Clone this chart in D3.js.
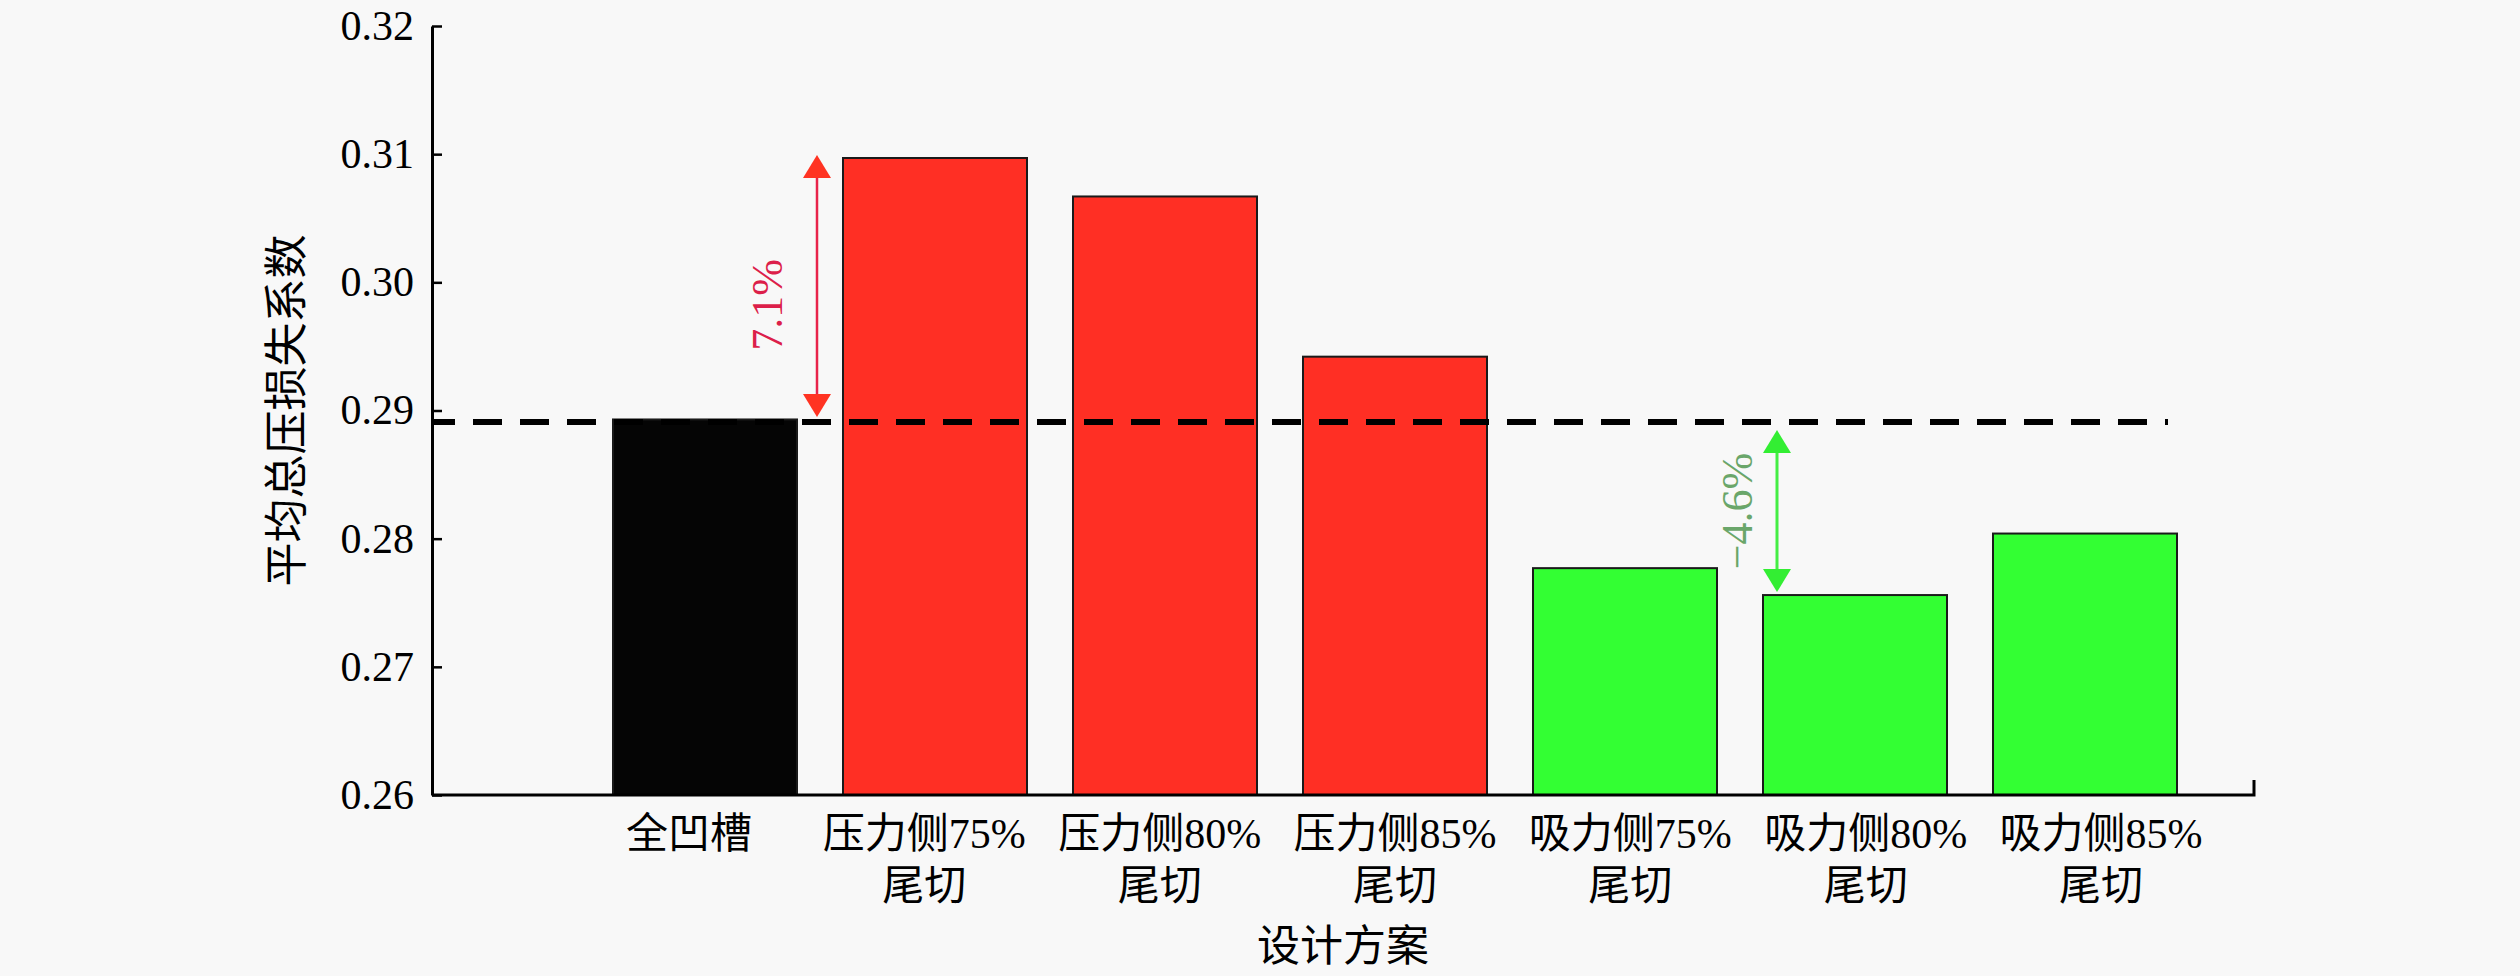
<!DOCTYPE html>
<html>
<head>
<meta charset="utf-8">
<script src="https://cdn.jsdelivr.net/npm/d3@7/dist/d3.min.js"></script>
<style>
  html, body { margin: 0; padding: 0; background: #f8f8f8; }
  svg { display: block; }
  svg text { font-family: "Liberation Serif", "Times New Roman", Tinos, "DejaVu Serif", serif, "Noto Sans CJK SC"; }
</style>
</head>
<body>
<svg id="chart" width="2520" height="976"></svg>
<script>
// ---- data ----
const categories = ["全凹槽", "压力侧75%尾切", "压力侧80%尾切", "压力侧85%尾切", "吸力侧75%尾切", "吸力侧80%尾切", "吸力侧85%尾切"];
const labelLine1 = ["全凹槽", "压力侧75%", "压力侧80%", "压力侧85%", "吸力侧75%", "吸力侧80%", "吸力侧85%"];
const labelLine2 = ["", "尾切", "尾切", "尾切", "尾切", "尾切", "尾切"];
const values = [0.2893, 0.3097, 0.3067, 0.2942, 0.2777, 0.2756, 0.2804];
const groups = ["base", "pressure", "pressure", "pressure", "suction", "suction", "suction"];
const baselineValue = 0.2891;
const yTicks = [0.26, 0.27, 0.28, 0.29, 0.30, 0.31, 0.32];
const yTitle = "平均总压损失系数";
const xTitle = "设计方案";
const annotations = [
  { from: "全凹槽", to: "压力侧75%尾切", label: "7.1%" },
  { from: "全凹槽", to: "吸力侧80%尾切", label: "\u22124.6%" }
];

// ---- styles ----
const fills = { base: "#050505", pressure: "#ff2f24", suction: "#33ff33" };
const FONT = '"Liberation Serif", "Times New Roman", Tinos, "DejaVu Serif", serif, "Noto Sans CJK SC"';

const svg = d3.select("#chart");
svg.append("rect").attr("width", 2520).attr("height", 976).attr("fill", "#f8f8f8");

const axisLeftX = 432, axisRightX = 2254;
const y = d3.scaleLinear().domain([0.26, 0.32]).range([795, 26]);
const x = d3.scaleBand().domain(categories).range([590, 2200]).paddingInner(0.2).paddingOuter(0.1);
const xLabel = d3.scalePoint().domain(categories).range([689, 2101]);

// bars
svg.append("g").selectAll("rect").data(categories).join("rect")
  .attr("x", d => x(d))
  .attr("width", x.bandwidth())
  .attr("y", (d, i) => y(values[i]))
  .attr("height", (d, i) => y(0.26) - y(values[i]))
  .attr("fill", (d, i) => fills[groups[i]])
  .attr("stroke", "#1a1a1a")
  .attr("stroke-width", 2);

// dashed baseline
svg.append("line")
  .attr("x1", axisLeftX).attr("x2", 2168)
  .attr("y1", y(baselineValue)).attr("y2", y(baselineValue))
  .attr("stroke", "#000").attr("stroke-width", 6)
  .attr("stroke-dasharray", "29,18").attr("stroke-dashoffset", 6);

// y axis
const yAxis = d3.axisLeft(y).tickValues(yTicks).tickFormat(d3.format(".2f"))
  .tickSize(-10).tickSizeOuter(0).tickPadding(18);
const gy = svg.append("g").attr("transform", `translate(${axisLeftX},0)`).call(yAxis)
  .attr("font-family", FONT).attr("font-size", 42);
gy.select(".domain").attr("stroke", "#000").attr("stroke-width", 3);
gy.selectAll(".tick line").attr("stroke", "#000").attr("stroke-width", 2.5);
gy.selectAll(".tick text")
  .attr("font-size", 42).attr("fill", "#000")
  .style("font-family", FONT)
  .attr("dy", "0.32em");

// x axis line with end tick
svg.append("path")
  .attr("d", `M${axisLeftX},${y(0.26)}H${axisRightX}V${y(0.26) - 15}`)
  .attr("fill", "none").attr("stroke", "#000").attr("stroke-width", 3);

// category labels
const gl = svg.append("g").style("font-family", FONT);
gl.selectAll("text.l1").data(categories).join("text").attr("class", "l1")
  .attr("x", d => xLabel(d)).attr("y", 833).attr("dy", "0.35em")
  .attr("text-anchor", "middle").attr("font-size", 42).attr("fill", "#000")
  .text((d, i) => labelLine1[i]);
gl.selectAll("text.l2").data(categories).join("text").attr("class", "l2")
  .attr("x", d => xLabel(d)).attr("y", 885).attr("dy", "0.35em")
  .attr("text-anchor", "middle").attr("font-size", 42).attr("fill", "#000")
  .text((d, i) => labelLine2[i]);

// axis titles
svg.append("text")
  .attr("x", (axisLeftX + axisRightX) / 2).attr("y", 946).attr("dy", "0.35em")
  .attr("text-anchor", "middle").attr("font-size", 43).attr("fill", "#000")
  .text(xTitle);
svg.append("text")
  .attr("transform", `translate(287,${(y(0.26) + y(0.32)) / 2}) rotate(-90)`)
  .attr("dy", "0.35em")
  .attr("text-anchor", "middle").attr("font-size", 44).attr("fill", "#000")
  .text(yTitle);

// annotation arrows
function arrow(g, ax, yTop, yBot, lineColor, headColor, lw) {
  const hl = 23, hw = 14;
  g.append("line").attr("x1", ax).attr("x2", ax).attr("y1", yTop + hl - 2).attr("y2", yBot - hl + 2)
    .attr("stroke", lineColor).attr("stroke-width", lw);
  g.append("path").attr("d", `M${ax},${yTop}L${ax - hw},${yTop + hl}L${ax + hw},${yTop + hl}Z`).attr("fill", headColor);
  g.append("path").attr("d", `M${ax},${yBot}L${ax - hw},${yBot - hl}L${ax + hw},${yBot - hl}Z`).attr("fill", headColor);
}
const ga = svg.append("g");
// increase (red)
{
  const a = annotations[0];
  const vi = categories.indexOf(a.to);
  const ax = x(a.to) - 26;
  const yTop = y(values[vi]) - 3;
  const yBot = y(baselineValue) - 5;
  arrow(ga, ax, yTop, yBot, "#e8234a", "#ff3322", 2.5);
  ga.append("text")
    .attr("transform", `translate(${ax - 50},${(yTop + yBot) / 2 + 19}) rotate(-90)`)
    .attr("dy", "0.35em").attr("text-anchor", "middle")
    .attr("font-size", 44).attr("fill", "#dc1f4a")
    .text(a.label);
}
// decrease (green)
{
  const a = annotations[1];
  const vi = categories.indexOf(a.to);
  const ax = x(a.to) + 14;
  const yTop = y(baselineValue) + 8;
  const yBot = y(values[vi]) - 3;
  arrow(ga, ax, yTop, yBot, "#44ee44", "#33ee33", 3);
  ga.append("text")
    .attr("transform", `translate(${ax - 40},${(yTop + yBot) / 2}) rotate(-90)`)
    .attr("dy", "0.35em").attr("text-anchor", "middle")
    .attr("font-size", 44).attr("fill", "#6aa66a")
    .text(a.label);
}
</script>
</body>
</html>
